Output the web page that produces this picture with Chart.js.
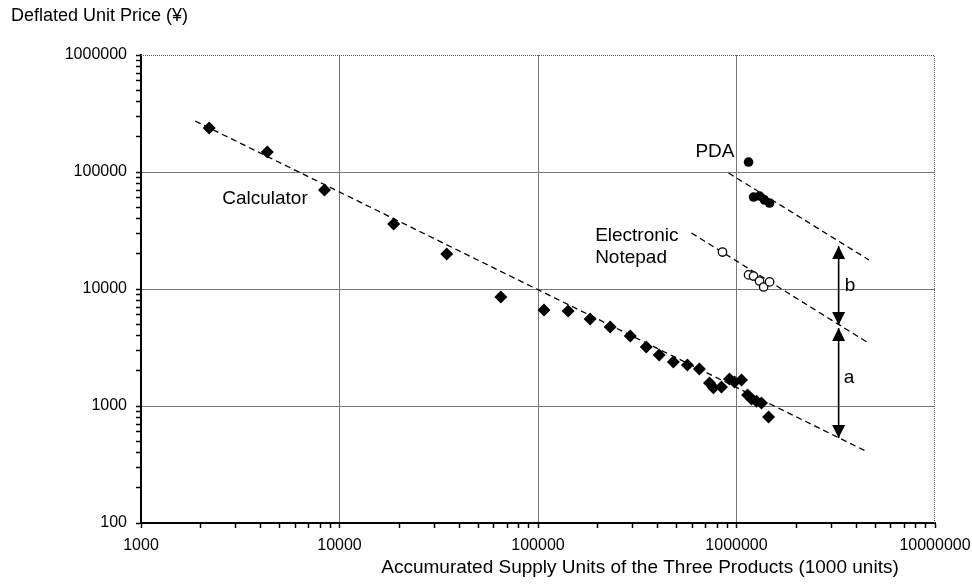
<!DOCTYPE html>
<html>
<head>
<meta charset="utf-8">
<script src="https://cdn.jsdelivr.net/npm/chart.js@4.4.1/dist/chart.umd.min.js"></script>
<style>
  html, body { margin: 0; padding: 0; background: #fff; }
  #wrap { width: 972px; height: 584px; position: relative; }
</style>
</head>
<body>
<div id="wrap"><canvas id="myChart"></canvas></div>
<script>
// axis ticks
const xTickLabels = [1000, 10000, 100000, 1000000, 10000000];
const yTickLabels = [100, 1000, 10000, 100000, 1000000];

// Calculator (diamonds)
const calcX = [2205, 4330, 8400, 18750, 34700, 65000, 107200, 141800, 183000, 231000,
  291500, 351000, 408000, 481000, 566000, 650000, 731000, 765000, 840000, 922000,
  977000, 1060000, 1137000, 1190000, 1262000, 1336000, 1451000];
const calcY = [237700, 148000, 70200, 36000, 19900, 8550, 6620, 6490, 5540, 4730,
  3960, 3190, 2730, 2380, 2240, 2070, 1570, 1430, 1450, 1700,
  1600, 1670, 1240, 1150, 1100, 1060, 805];

// PDA (filled circles)
const pdaX = [1150000, 1219000, 1306000, 1384000, 1468000];
const pdaY = [121700, 61100, 62300, 57600, 54300];

// Electronic Notepad (open circles)
const noteX = [850000, 1150000, 1219000, 1306000, 1370000, 1468000];
const noteY = [20700, 13200, 12900, 11700, 10400, 11500];

// dashed trend lines (end points)
const calcTrendX = [1874, 4590000];
const calcTrendY = [273000, 404];
const pdaTrendX = [912000, 4650000];
const pdaTrendY = [98000, 17700];
const noteTrendX = [593000, 4540000];
const noteTrendY = [30100, 3520];

// gap arrows
const arrowX = 3270000;
const arrowB = [23300, 4920];
const arrowA = [4650, 532];

// text labels on the plot
const notes = [
  { text: 'Calculator', x: 2565, y: 58700, align: 'left' },
  { text: 'PDA', x: 977000, y: 148000, align: 'right' },
  { text: 'Electronic', x: 194000, y: 28400, align: 'left' },
  { text: 'Notepad', x: 194000, y: 18400, align: 'left' },
  { text: 'b', x: 3510000, y: 10600, align: 'left' },
  { text: 'a', x: 3470000, y: 1730, align: 'left' }
];

function pts(xs, ys) {
  return xs.map((x, i) => ({ x: x, y: ys[i] }));
}

function logTicks(labels) {
  let out = [];
  for (let i = 0; i < labels.length - 1; i++) {
    for (let k = 1; k < 10; k++) out.push({ value: labels[i] * k });
  }
  out.push({ value: labels[labels.length - 1] });
  return out;
}

Chart.defaults.font.family = '"Liberation Sans", Arial, sans-serif';
Chart.defaults.color = '#000';

const trendStyle = {
  showLine: true, pointRadius: 0, borderColor: '#000', borderWidth: 1.3,
  borderDash: [6, 4], fill: false
};
const arrowStyle = {
  showLine: true, pointRadius: 0, borderColor: '#000', borderWidth: 1.6, fill: false, arrow: true
};

const decorPlugin = {
  id: 'decor',
  afterDatasetsDraw(chart) {
    const ctx = chart.ctx;
    const a = chart.chartArea;
    const sx = chart.scales.x, sy = chart.scales.y;
    ctx.save();
    // dotted top and right frame
    ctx.strokeStyle = '#555';
    ctx.lineWidth = 1;
    ctx.setLineDash([1, 1]);
    ctx.beginPath();
    ctx.moveTo(a.left, a.top + 0.5);
    ctx.lineTo(a.right - 0.5, a.top + 0.5);
    ctx.lineTo(a.right - 0.5, a.bottom);
    ctx.stroke();
    ctx.setLineDash([]);

    // arrow heads
    ctx.fillStyle = '#000';
    chart.data.datasets.forEach((ds, i) => {
      if (!ds.arrow) return;
      const els = chart.getDatasetMeta(i).data;
      const p0 = els[0], p1 = els[els.length - 1];
      ctx.beginPath();
      ctx.moveTo(p0.x, p0.y);
      ctx.lineTo(p0.x - 6.5, p0.y + 13);
      ctx.lineTo(p0.x + 6.5, p0.y + 13);
      ctx.closePath();
      ctx.fill();
      ctx.beginPath();
      ctx.moveTo(p1.x, p1.y);
      ctx.lineTo(p1.x - 6.5, p1.y - 13);
      ctx.lineTo(p1.x + 6.5, p1.y - 13);
      ctx.closePath();
      ctx.fill();
    });

    // text
    ctx.font = '19px "Liberation Sans", Arial, sans-serif';
    ctx.textBaseline = 'middle';
    notes.forEach(n => {
      ctx.textAlign = n.align;
      ctx.fillText(n.text, sx.getPixelForValue(n.x), sy.getPixelForValue(n.y));
    });

    ctx.font = '18px "Liberation Sans", Arial, sans-serif';
    ctx.textAlign = 'left';
    ctx.fillText('Deflated Unit Price (\u00a5)', 11, 16);
    ctx.font = '19px "Liberation Sans", Arial, sans-serif';
    ctx.textAlign = 'center';
    ctx.fillText('Accumurated Supply Units of the Three Products (1000 units)', 640, 568);
    ctx.restore();
  }
};

let myChart = new Chart(document.querySelector('#myChart').getContext('2d'), {
  type: 'scatter',
  data: {
    datasets: [
      {
        label: 'Calculator', data: pts(calcX, calcY), pointStyle: 'rectRot',
        pointRadius: 6.5, backgroundColor: '#000', borderColor: '#000', borderWidth: 0
      },
      {
        label: 'PDA', data: pts(pdaX, pdaY), pointStyle: 'circle',
        pointRadius: 4.8, backgroundColor: '#000', borderColor: '#000', borderWidth: 0
      },
      {
        label: 'Electronic Notepad', data: pts(noteX, noteY), pointStyle: 'circle',
        pointRadius: 4.2, backgroundColor: '#fff', borderColor: '#000', borderWidth: 1.3
      },
      Object.assign({ label: 'calc trend', data: pts(calcTrendX, calcTrendY) }, trendStyle),
      Object.assign({ label: 'pda trend', data: pts(pdaTrendX, pdaTrendY) }, trendStyle),
      Object.assign({ label: 'note trend', data: pts(noteTrendX, noteTrendY) }, trendStyle),
      Object.assign({ label: 'b', data: [{ x: arrowX, y: arrowB[0] }, { x: arrowX, y: arrowB[1] }] }, arrowStyle),
      Object.assign({ label: 'a', data: [{ x: arrowX, y: arrowA[0] }, { x: arrowX, y: arrowA[1] }] }, arrowStyle)
    ]
  },
  options: {
    responsive: true,
    maintainAspectRatio: false,
    animation: false,
    layout: { padding: { top: 55, right: 37, left: 0, bottom: 0 } },
    plugins: {
      legend: { display: false },
      tooltip: { enabled: false },
      title: { display: false }
    },
    scales: {
      x: {
        type: 'logarithmic',
        min: xTickLabels[0],
        max: xTickLabels[xTickLabels.length - 1],
        afterBuildTicks: s => { s.ticks = logTicks(xTickLabels); },
        afterFit: s => { s.height = 61; s.paddingLeft = 0; s.paddingRight = 0; },
        border: { color: '#000', width: 2 },
        grid: {
          color: c => (xTickLabels.includes(c.tick.value) && c.tick.value !== xTickLabels[0] && c.tick.value !== xTickLabels[xTickLabels.length - 1]) ? '#777' : 'rgba(0,0,0,0)',
          lineWidth: 1,
          tickColor: '#000',
          tickLength: 5,
          tickWidth: 1.5
        },
        ticks: {
          autoSkip: false, maxRotation: 0, padding: 8,
          font: { size: 16 },
          callback: v => xTickLabels.includes(v) ? String(v) : ''
        }
      },
      y: {
        type: 'logarithmic',
        min: yTickLabels[0],
        max: yTickLabels[yTickLabels.length - 1],
        afterBuildTicks: s => { s.ticks = logTicks(yTickLabels); },
        afterFit: s => { s.width = 141; s.paddingTop = 0; s.paddingBottom = 0; },
        border: { color: '#000', width: 2 },
        grid: {
          color: c => (yTickLabels.includes(c.tick.value) && c.tick.value !== yTickLabels[0] && c.tick.value !== yTickLabels[yTickLabels.length - 1]) ? '#777' : 'rgba(0,0,0,0)',
          lineWidth: 1,
          tickColor: '#000',
          tickLength: 5,
          tickWidth: 1.5
        },
        ticks: {
          autoSkip: false, padding: 9,
          font: { size: 16 },
          callback: v => yTickLabels.includes(v) ? String(v) : ''
        }
      }
    }
  },
  plugins: [decorPlugin]
});
</script>
</body>
</html>
